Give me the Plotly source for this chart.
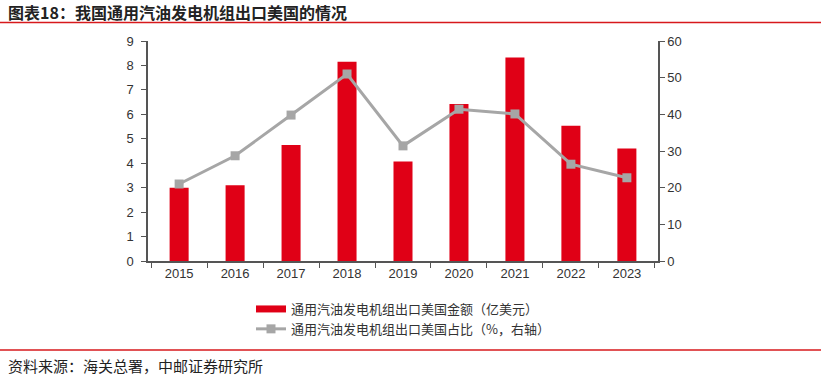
import plotly.graph_objects as go

years = ["2015", "2016", "2017", "2018", "2019", "2020", "2021", "2022", "2023"]
export_value = [3.0, 3.1, 4.75, 8.15, 4.07, 6.42, 8.32, 5.53, 4.6]
share_pct = [21.0, 28.7, 39.8, 51.0, 31.4, 41.4, 40.1, 26.4, 22.7]

bar_name = "通用汽油发电机组出口美国金额（亿美元）"
line_name = "通用汽油发电机组出口美国占比（%，右轴）"
title_text = "图表18：我国通用汽油发电机组出口美国的情况"
source_text = "资料来源：海关总署，中邮证券研究所"

L, R, T, B = 148, 163, 41, 114
W, H = 821, 375
pw, ph = W - L - R, H - T - B

def px_x(x):
    return (x - L) / pw

def px_y(y):
    return (H - B - y) / ph

tick_font = dict(family="Liberation Sans, Arial, sans-serif", size=13, color="#333333")
cjk = "Noto Sans CJK SC, sans-serif"
red = "#E00016"
gray = "#A6A6A6"

fig = go.Figure()
fig.add_trace(go.Bar(
    x=years, y=export_value, name=bar_name,
    marker=dict(color=red, line=dict(width=0)),
    width=0.34, yaxis="y", showlegend=False,
))
# legend entry for the bars, drawn as a wide red block like the reference
fig.add_trace(go.Scatter(
    x=[None], y=[None], name=bar_name, mode="lines",
    line=dict(color=red, width=7), yaxis="y", showlegend=True,
))
fig.add_trace(go.Scatter(
    x=years, y=share_pct, name=line_name, mode="lines+markers",
    line=dict(color=gray, width=3),
    marker=dict(symbol="square", size=9, color=gray),
    yaxis="y2",
))

fig.update_layout(
    width=W, height=H,
    margin=dict(l=L, r=R, t=T, b=B, pad=0),
    paper_bgcolor="white", plot_bgcolor="white",
    showlegend=True,
    legend=dict(
        x=px_x(251), y=px_y(294), xanchor="left", yanchor="top",
        font=dict(family=cjk, size=13, color="#333333"),
        bgcolor="rgba(0,0,0,0)", tracegroupgap=0,
    ),
    xaxis=dict(
        type="category", showgrid=False, showline=True, linecolor="#555555", linewidth=1.5,
        ticks="outside", tickson="boundaries", ticklen=5, tickcolor="#555555",
        tickfont=tick_font, zeroline=False,
    ),
    yaxis=dict(
        range=[0, 9], dtick=1, showgrid=False, showline=True, linecolor="#555555", linewidth=1.5,
        ticks="outside", ticklen=5, tickcolor="#555555", tickfont=tick_font, zeroline=False,
        ticklabelstandoff=5,
    ),
    yaxis2=dict(
        range=[0, 60], dtick=10, overlaying="y", side="right", showgrid=False,
        showline=True, linecolor="#555555", linewidth=1.5,
        ticks="outside", ticklen=5, tickcolor="#555555", tickfont=tick_font, zeroline=False,
    ),
    bargap=0.66,
)

fig.add_annotation(
    x=px_x(6), y=px_y(12), xref="paper", yref="paper", xanchor="left", yanchor="middle",
    text="<b>" + title_text + "</b>", showarrow=False,
    font=dict(family=cjk, size=16, color="#222222"),
)
fig.add_annotation(
    x=px_x(6), y=px_y(365), xref="paper", yref="paper", xanchor="left", yanchor="middle",
    text=source_text, showarrow=False,
    font=dict(family=cjk, size=15, color="#222222"),
)
fig.add_shape(type="line", xref="paper", yref="paper",
              x0=px_x(0), x1=px_x(W), y0=px_y(22.5), y1=px_y(22.5),
              line=dict(color="#D7191C", width=1.5))
fig.add_shape(type="line", xref="paper", yref="paper",
              x0=px_x(0), x1=px_x(W), y0=px_y(350), y1=px_y(350),
              line=dict(color="#D7191C", width=1.5))

fig.write_html("out.html", config={"displayModeBar": False},
               post_script="document.body.style.margin='0';document.body.style.padding='0';")
